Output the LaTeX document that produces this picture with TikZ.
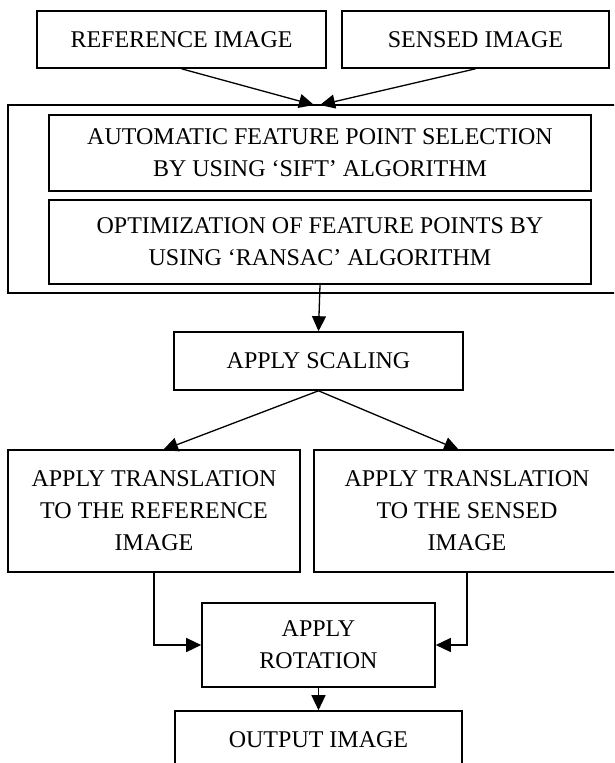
\documentclass[tikz,border=0pt]{standalone}
\usepackage{fontspec}
\setmainfont{Liberation Serif}
\usetikzlibrary{arrows.meta}
\begin{document}
\begin{tikzpicture}[x=1pt,y=-1pt,
  box/.style={draw, line width=1.6pt, inner sep=0pt, align=center,
    font=\fontsize{24}{32}\selectfont},
  arr/.style={line width=1.3pt, -{Triangle[length=15pt,width=14pt]}}]
\useasboundingbox (0,0) rectangle (614,763);
\clip (0,0) rectangle (614,763);
\node[box, minimum width=289pt, minimum height=57pt] (ref) at (181.5,39.5) {REFERENCE IMAGE};
\node[box, minimum width=267pt, minimum height=57pt] (sensed) at (475.5,39.5) {SENSED IMAGE};
\node[box, minimum width=624pt, minimum height=188pt] (outer) at (320,199) {};
\node[box, minimum width=542pt, minimum height=76pt] (auto) at (320,153) {AUTOMATIC FEATURE POINT SELECTION\\BY USING ‘SIFT’ ALGORITHM};
\node[box, minimum width=542pt, minimum height=84pt] (optim) at (320,242) {OPTIMIZATION OF FEATURE POINTS BY\\USING ‘RANSAC’ ALGORITHM};
\node[box, minimum width=289pt, minimum height=58pt] (scal) at (318.5,361) {APPLY SCALING};
\node[box, minimum width=292pt, minimum height=122pt] (transL) at (154,511) {APPLY TRANSLATION\\TO THE REFERENCE\\IMAGE};
\node[box, minimum width=306pt, minimum height=122pt] (transR) at (467,511) {APPLY TRANSLATION\\TO THE SENSED\\IMAGE};
\node[box, minimum width=233pt, minimum height=84pt] (rot) at (318.5,645) {APPLY\\ROTATION};
\node[box, minimum width=287pt, minimum height=58pt] (out) at (318.5,740) {OUTPUT IMAGE};
\coordinate (tipA) at (314,105);
\coordinate (tipB) at (320,105);
\coordinate (tipL) at (163,450);
\coordinate (tipR) at (459,450);
\draw[arr] (ref.south) -- (tipA);
\draw[arr] (sensed.south) -- (tipB);
\draw[arr] (optim.south) -- (scal.north);
\draw[arr] (scal.south) -- (tipL);
\draw[arr] (scal.south) -- (tipR);
\draw[arr] (transL.south) |- (rot.west);
\draw[arr] (transR.south) |- (rot.east);
\draw[arr] (rot.south) -- (out.north);
\end{tikzpicture}
\end{document}
